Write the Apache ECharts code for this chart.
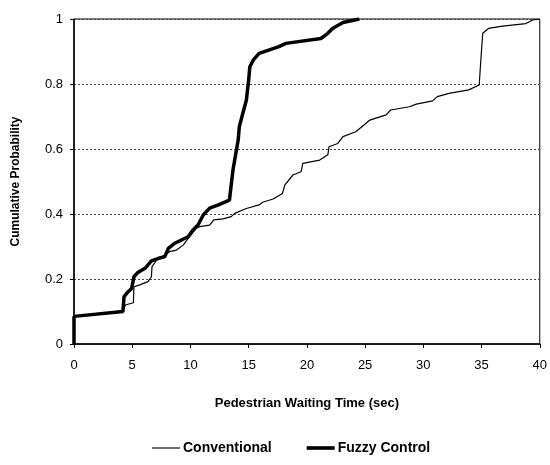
<!DOCTYPE html>
<html><head><meta charset="utf-8">
<script src="https://cdn.jsdelivr.net/npm/echarts@6/dist/echarts.min.js"></script>
<style>html,body{margin:0;padding:0;background:#fff}#c{width:550px;height:465px}</style>
</head><body><div id="c"></div>
<script>
var seriesNames = ['Conventional', 'Fuzzy Control'];
var convTime = [0,0,4.2,4.4,5.1,5.15,5.65,6.35,6.65,6.7,7.2,7.8,8.2,8.8,9.4,9.8,10.5,10.8,11.65,12.0,12.8,13.5,13.8,14.8,15.9,16.2,17.1,17.9,18.1,18.8,19.5,19.65,21.1,21.8,21.9,22.65,23.1,24.2,24.9,25.4,26.8,27.2,28.8,29.4,30.8,31.2,32.2,33.9,34.8,34.9,35.1,35.6,36.8,38.8,39.4,40];
var convProb = [0,0.085,0.1,0.12,0.127,0.176,0.182,0.192,0.207,0.238,0.263,0.274,0.284,0.289,0.305,0.325,0.356,0.361,0.366,0.382,0.385,0.392,0.402,0.417,0.428,0.436,0.446,0.463,0.489,0.52,0.53,0.556,0.566,0.582,0.607,0.617,0.638,0.653,0.674,0.689,0.705,0.72,0.73,0.738,0.748,0.761,0.771,0.782,0.797,0.853,0.956,0.971,0.978,0.986,0.997,1.0];
var fuzzyTime = [0,0,4.2,4.3,4.65,4.95,5.15,5.45,6.1,6.65,7.2,7.8,8.1,8.65,9.8,10.2,10.65,11.1,11.65,12.4,13.35,13.45,13.65,13.8,14.1,14.2,14.5,14.8,15.0,15.1,15.4,15.9,17.6,18.2,21.2,21.8,22.2,23.1,24.5];
var fuzzyProb = [0,0.085,0.1,0.146,0.161,0.171,0.207,0.219,0.233,0.256,0.263,0.269,0.294,0.31,0.33,0.35,0.366,0.397,0.418,0.428,0.443,0.474,0.535,0.566,0.628,0.669,0.71,0.75,0.812,0.853,0.874,0.894,0.915,0.925,0.94,0.956,0.971,0.989,1.0];
var xTicks = [0,5,10,15,20,25,30,35,40];
var yTicks = [0,0.2,0.4,0.6,0.8,1];

function zip(a,b){return a.map(function(v,i){return [v,b[i]];});}
var font = 'Liberation Sans, Arial, sans-serif';
var chart = echarts.init(document.getElementById('c'), null, {renderer:'canvas'});
chart.setOption({
  animation:false,
  backgroundColor:'#fff',
  grid:{left:74,right:9,top:19,bottom:121,show:true,borderColor:'#000',borderWidth:1},
  xAxis:{type:'value',min:xTicks[0],max:xTicks[xTicks.length-1],interval:5,
    name:'Pedestrian Waiting Time (sec)',nameLocation:'middle',nameGap:53,
    nameTextStyle:{fontFamily:font,fontWeight:'bold',fontSize:13,color:'#000'},
    axisLine:{lineStyle:{color:'#000',width:1.5}},
    axisTick:{show:true,length:4,lineStyle:{color:'#000'}},
    axisLabel:{fontFamily:font,fontSize:13,color:'#000',margin:15},
    splitLine:{show:false}},
  yAxis:{type:'value',min:yTicks[0],max:yTicks[yTicks.length-1],interval:0.2,
    name:'Cumulative Probability',nameLocation:'middle',nameGap:52,
    nameTextStyle:{fontFamily:font,fontWeight:'bold',fontSize:12,color:'#000'},
    axisLine:{show:true,lineStyle:{color:'#000',width:1.5}},
    axisTick:{show:true,length:4,lineStyle:{color:'#000'}},
    axisLabel:{fontFamily:font,fontSize:13,color:'#000',margin:11},
    splitLine:{show:true,lineStyle:{color:'#444',type:[2,2],width:1}}},
  legend:{bottom:5,left:147,itemGap:35,itemWidth:28,itemHeight:12,
    textStyle:{fontFamily:font,fontWeight:'bold',fontSize:14,color:'#000',padding:[0,0,0,-2]},
    data:[
      {name:seriesNames[0],icon:'path://M0 0H100V4H0Z'},
      {name:seriesNames[1],icon:'path://M0 0H100V13H0Z'}
    ]},
  series:[
    {name:seriesNames[0],type:'line',showSymbol:false,symbol:'none',data:zip(convTime,convProb),
      lineStyle:{color:'#000',width:1.2},itemStyle:{color:'#000'},z:3},
    {name:seriesNames[1],type:'line',showSymbol:false,symbol:'none',data:zip(fuzzyTime,fuzzyProb),
      lineStyle:{color:'#000',width:3.5},itemStyle:{color:'#000'},z:4}
  ]
});
</script></body></html>
